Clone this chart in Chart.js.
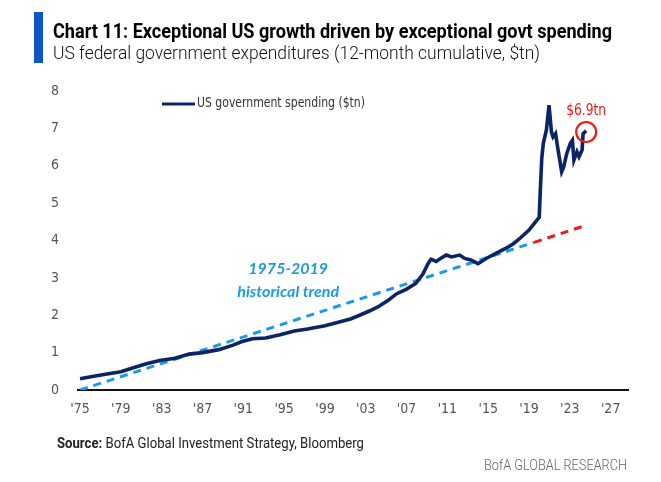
<!DOCTYPE html>
<html>
<head>
<meta charset="utf-8">
<script src="https://cdn.jsdelivr.net/npm/chart.js@4.4.1/dist/chart.umd.min.js"></script>
<style>
  body { margin: 0; background: #fff; }
  #wrap { position: relative; width: 661px; height: 482px; font-family: Roboto, sans-serif; }
  #chart { position: absolute; left: 0; top: 0; }
  .bar { position: absolute; left: 34px; top: 12px; width: 9px; height: 51px; background: #0a55c8; }
  .fit { position: absolute; white-space: nowrap; transform-origin: 0 50%; }
  .title { left: 53px; top: 19px; font-size: 20px; font-weight: bold; color: #000; }
  .subtitle { left: 53px; top: 41px; font-size: 19px; font-weight: 300; color: #111; }
  .source { left: 57px; top: 434px; font-size: 15px; color: #222; }
  .brand { left: 484px; top: 456px; font-size: 15px; font-weight: 300; color: #666; }
</style>
</head>
<body>
<div id="wrap">
  <canvas id="chart" width="661" height="482"></canvas>
  <div class="bar"></div>
  <div class="fit title" data-w="559">Chart 11: Exceptional US growth driven by exceptional govt spending</div>
  <div class="fit subtitle" data-w="487">US federal government expenditures (12-month cumulative, $tn)</div>
  <div class="fit source" data-w="307"><b>Source:</b> BofA Global Investment Strategy, Bloomberg</div>
  <div class="fit brand" data-w="143">BofA GLOBAL RESEARCH</div>
</div>
<script>
// US government spending, 12-month cumulative ($tn)
const spendYears = [1975.0, 1976.2, 1977.5, 1979.0, 1980.3, 1981.5, 1982.8, 1984.3, 1985.7, 1987.0,
  1988.6, 1990.0, 1990.8, 1991.9, 1993.2, 1994.6, 1996.0, 1997.3, 1999.0, 2000.4,
  2001.5, 2002.4, 2003.4, 2004.3, 2005.2, 2006.0, 2007.0, 2007.9, 2008.6, 2009.1,
  2009.4, 2009.9, 2010.4, 2010.9, 2011.4, 2012.2, 2012.7, 2013.3, 2014.0, 2014.8,
  2015.8, 2016.8, 2017.5, 2018.2, 2019.0, 2019.5, 2020.0, 2020.1, 2020.25, 2020.4,
  2020.7, 2020.96, 2021.2, 2021.35, 2021.6, 2021.8, 2022.2, 2022.4, 2022.7, 2023.05,
  2023.25, 2023.4, 2023.7, 2023.9, 2024.2, 2024.3, 2024.6];
const spendValues = [0.30, 0.36, 0.42, 0.49, 0.60, 0.70, 0.79, 0.85, 0.96, 1.00,
  1.08, 1.20, 1.29, 1.37, 1.39, 1.48, 1.58, 1.63, 1.72, 1.82,
  1.90, 2.00, 2.12, 2.24, 2.40, 2.57, 2.70, 2.85, 3.10, 3.38,
  3.50, 3.44, 3.53, 3.61, 3.56, 3.61, 3.52, 3.48, 3.38, 3.52,
  3.66, 3.80, 3.92, 4.08, 4.28, 4.45, 4.62, 5.30, 6.20, 6.60,
  6.95, 7.62, 6.90, 6.77, 6.86, 6.50, 5.84, 5.97, 6.33, 6.60,
  6.68, 6.15, 6.37, 6.24, 6.42, 6.86, 6.93];

// 1975-2019 historical trend and its extension
const trendYears = [1975.0, 2019.5];
const trendValues = [0.0, 3.95];
const extYears = [2019.5, 2024.5];
const extValues = [3.95, 4.40];

const tickYears = [1975, 1979, 1983, 1987, 1991, 1995, 1999, 2003, 2007, 2011, 2015, 2019, 2023, 2027];
const tickLabels = ["'75", "'79", "'83", "'87", "'91", "'95", "'99", "'03", "'07", "'11", "'15", "'19", "'23", "'27"];

const FONT = '"DejaVu Sans Condensed", "Liberation Sans Narrow", sans-serif';
const NAVY = '#0b2466';
const LIGHTBLUE = '#1d9be0';
const RED = '#f01818';

// squeeze the html texts to the narrow widths of the original
document.querySelectorAll('.fit').forEach(el => {
  const w = el.getBoundingClientRect().width;
  el.style.transform = 'scaleX(' + (el.dataset.w / w) + ')';
});

const toPts = (xs, ys) => xs.map((x, i) => ({ x: x, y: ys[i] }));

const extras = {
  id: 'extras',
  afterDatasetsDraw(chart) {
    const c = chart.ctx;
    const xs = chart.scales.x, ys = chart.scales.y;
    c.save();
    // legend
    c.strokeStyle = NAVY;
    c.lineWidth = 3;
    c.beginPath();
    c.moveTo(162, 104);
    c.lineTo(195, 104);
    c.stroke();
    c.fillStyle = '#333';
    c.font = '14px ' + FONT;
    c.textBaseline = 'middle';
    c.fillText(chart.data.datasets[0].label, 197, 103, 168);

    // trend label
    c.fillStyle = LIGHTBLUE;
    c.font = 'italic bold 16px Lato, sans-serif';
    c.textAlign = 'center';
    c.fillText('1975-2019', xs.getPixelForValue(1995.4), ys.getPixelForValue(3.24));
    c.fillText('historical trend', xs.getPixelForValue(1995.4), ys.getPixelForValue(2.62));

    // latest value marker
    const lx = xs.getPixelForValue(spendYears[spendYears.length - 1]);
    const ly = ys.getPixelForValue(spendValues[spendValues.length - 1]);
    c.strokeStyle = RED;
    c.lineWidth = 2.2;
    c.beginPath();
    c.arc(lx, ly + 1, 10, 0, Math.PI * 2);
    c.stroke();
    c.fillStyle = RED;
    c.font = '15px ' + FONT;
    c.fillText('$6.9tn', lx, ys.getPixelForValue(7.45), 40);
    c.restore();
  }
};

new Chart(document.getElementById('chart'), {
  type: 'line',
  data: {
    datasets: [
      { label: 'US government spending ($tn)', data: toPts(spendYears, spendValues),
        borderColor: NAVY, borderWidth: 3.6, pointRadius: 0, order: 1 },
      { label: 'trend', data: toPts(trendYears, trendValues),
        borderColor: LIGHTBLUE, borderWidth: 3, borderDash: [8, 6], pointRadius: 0, order: 2 },
      { label: 'trend ext', data: toPts(extYears, extValues),
        borderColor: RED, borderWidth: 3, borderDash: [8, 6], pointRadius: 0, order: 2 }
    ]
  },
  options: {
    responsive: false,
    animation: false,
    layout: { padding: { left: 0, top: 91, right: 33, bottom: 0 } },
    plugins: { legend: { display: false }, tooltip: { enabled: false } },
    scales: {
      x: {
        type: 'linear', min: 1974.8, max: 2028.7,
        afterBuildTicks: s => { s.ticks = tickYears.map(v => ({ value: v })); },
        afterFit: s => { s.height = 92; },
        grid: { display: false },
        border: { display: true, color: '#111', width: 2 },
        ticks: { color: '#555', font: { family: FONT, size: 14 }, padding: 3, maxRotation: 0,
          callback: v => tickLabels[tickYears.indexOf(v)] }
      },
      y: {
        min: 0, max: 8,
        afterFit: s => { s.width = 78; },
        grid: { display: false },
        border: { display: false },
        ticks: { stepSize: 1, color: '#555', font: { family: FONT, size: 14 }, padding: 11 }
      }
    }
  },
  plugins: [extras]
});
</script>
</body>
</html>
